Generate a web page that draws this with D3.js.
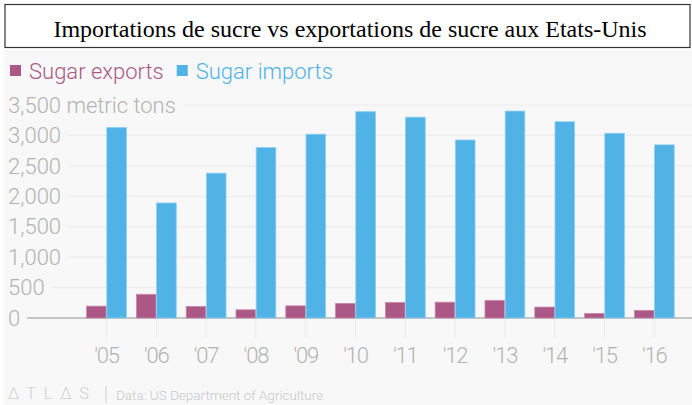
<!DOCTYPE html>
<html>
<head>
<meta charset="utf-8">
<script src="https://cdn.jsdelivr.net/npm/d3@7"></script>
<style>
  html, body { margin: 0; padding: 0; background: #fff; }
  svg { display: block; }
  text { font-family: Roboto, "Open Sans", sans-serif; }
</style>
</head>
<body>
<svg id="chart" width="692" height="405"></svg>
<script>
const years = ["'05", "'06", "'07", "'08", "'09", "'10", "'11", "'12", "'13", "'14", "'15", "'16"];
const sugarExports = [195, 390, 190, 135, 200, 240, 255, 260, 290, 180, 75, 125];
const sugarImports = [3130, 1890, 2380, 2800, 3020, 3390, 3300, 2925, 3400, 3225, 3035, 2845];
const yTicks = [0, 500, 1000, 1500, 2000, 2500, 3000, 3500];
const seriesNames = ["Sugar exports", "Sugar imports"];
const colors = ["#ab5886", "#51b2e5"];

const svg = d3.select('#chart');
const W = 692, H = 405;

// fond gris du graphique + cadre du titre
svg.append('rect').attr('x', 4).attr('y', 50).attr('width', W - 4).attr('height', H - 50).attr('fill', '#f8f8f8');
svg.append('rect').attr('x', 5).attr('y', 4.5).attr('width', 685).attr('height', 43)
    .attr('fill', '#fff').attr('stroke', '#333').attr('stroke-width', 1.2);
svg.append('text').attr('x', 350).attr('y', 37).attr('text-anchor', 'middle')
    .style('font-family', '"Liberation Serif", "Times New Roman", serif')
    .attr('font-size', 24).attr('fill', '#000')
    .text('Importations de sucre vs exportations de sucre aux Etats-Unis');

// legende
const legend = svg.append('g').attr('class', 'legend');
let lx = 10;
seriesNames.forEach((name, i) => {
    legend.append('rect').attr('x', lx).attr('y', 65).attr('width', 11).attr('height', 11).attr('fill', colors[i]);
    const t = legend.append('text').attr('x', lx + 19).attr('y', 79)
        .attr('font-size', 22).attr('font-weight', 300).attr('fill', colors[i]).text(name);
    lx += 19 + t.node().getComputedTextLength() + 13;
});

const x0 = d3.scaleBand().domain(years).range([81.6, 679.2]).paddingInner(0.2).paddingOuter(0.1);
const x1 = d3.scaleBand().domain(seriesNames).range([0, x0.bandwidth()]).paddingInner(0.03);
const y = d3.scaleLinear().domain([0, 3500]).range([318, 105]);

// grille + etiquettes de l'axe y
const grid = svg.append('g').attr('class', 'grid');
yTicks.forEach(v => {
    const label = v === 3500 ? d3.format(',')(v) + ' metric tons' : d3.format(',')(v);
    const t = grid.append('text').attr('x', 8).attr('y', y(v)).attr('dy', '0.35em')
        .attr('font-size', 22).attr('font-weight', 300).attr('fill', '#b3b3b3').text(label);
    const x2 = 8 + t.node().getComputedTextLength() + 7;
    grid.append('line').attr('x1', x2).attr('x2', W).attr('y1', y(v)).attr('y2', y(v))
        .attr('stroke', v === 0 ? '#c4c4c4' : '#ececec').attr('stroke-width', v === 0 ? 2 : 1.2);
});

// graduations sous l'axe x
const xAxis = svg.append('g').attr('transform', 'translate(0,319)')
    .call(d3.axisBottom(x0).tickSize(19).tickPadding(9));
xAxis.select('.domain').remove();
xAxis.selectAll('.tick line').attr('stroke', '#e8e8e8');
xAxis.selectAll('.tick text').attr('font-size', 22).attr('font-weight', 300)
    .attr('fill', '#b3b3b3').style('font-family', 'Roboto, sans-serif').attr('letter-spacing', -1.2);

// barres
const groups = svg.append('g').selectAll('g').data(years).join('g')
    .attr('transform', d => `translate(${x0(d)},0)`);
groups.selectAll('rect')
    .data((d, i) => [sugarExports[i], sugarImports[i]].map((v, k) => ({ key: seriesNames[k], v, k })))
    .join('rect')
    .attr('x', d => x1(d.key))
    .attr('y', d => y(d.v))
    .attr('width', x1.bandwidth())
    .attr('height', d => y(0) - y(d.v))
    .attr('fill', d => colors[d.k])
    .attr('stroke', d => d.k === 0 ? '#c98aad' : '#8ccdf0')
    .attr('stroke-width', 0.8);

// pied de page
const foot = svg.append('g').attr('fill', '#d0d0d0');
foot.append('text').attr('x', 8).attr('y', 399).attr('font-size', 16).attr('font-weight', 300)
    .attr('letter-spacing', 8).text('\u2206TL\u2206S');
foot.append('line').attr('x1', 106).attr('x2', 106).attr('y1', 386).attr('y2', 403).attr('stroke', '#d0d0d0');
foot.append('text').attr('x', 116).attr('y', 400).attr('font-size', 13.5).attr('font-weight', 300)
    .attr('fill', '#c8c8c8').text('Data: US Department of Agriculture');
</script>
</body>
</html>
